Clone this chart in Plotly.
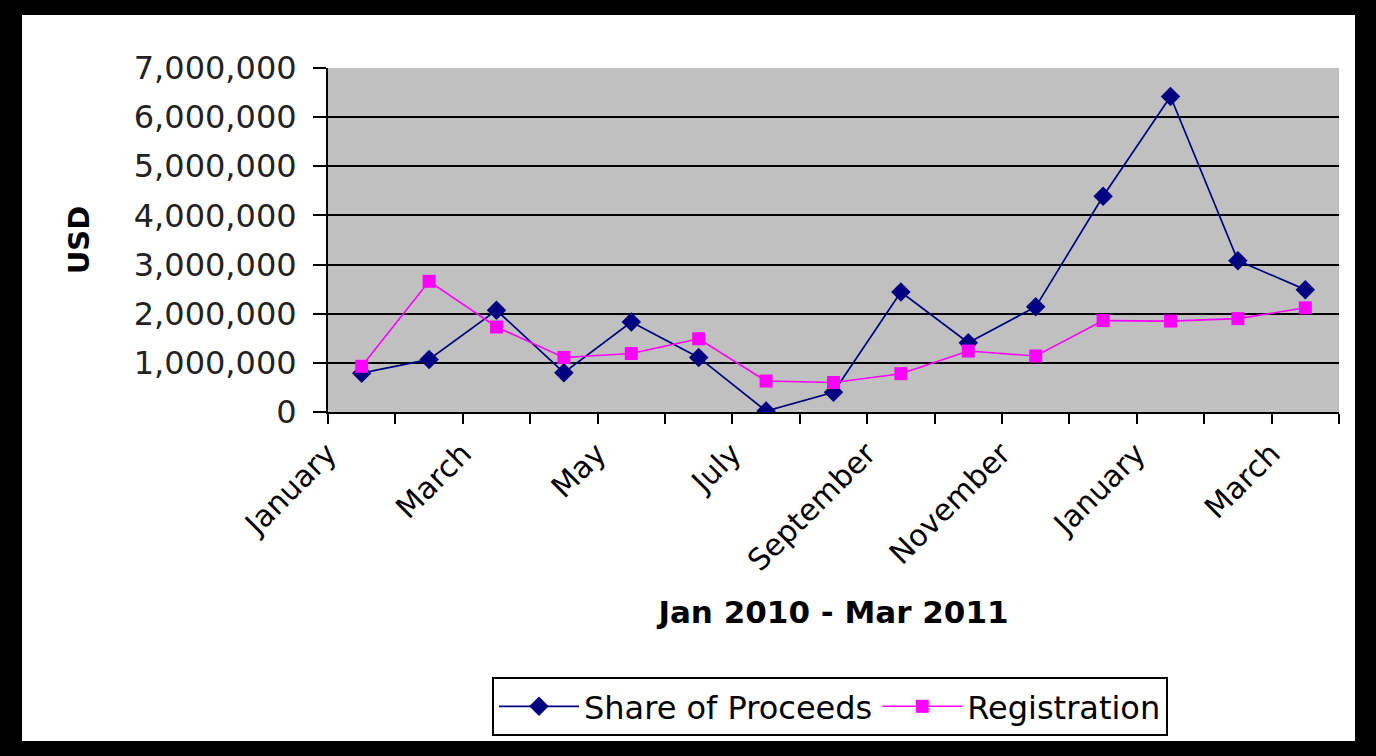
import plotly.graph_objects as go

# ---- data ----
months = ["Jan 2010", "Feb 2010", "Mar 2010", "Apr 2010", "May 2010", "Jun 2010",
          "Jul 2010", "Aug 2010", "Sep 2010", "Oct 2010", "Nov 2010", "Dec 2010",
          "Jan 2011", "Feb 2011", "Mar 2011"]
tick_labels = ["January", "", "March", "", "May", "", "July", "", "September", "",
               "November", "", "January", "", "March"]
share_of_proceeds = [790000, 1070000, 2070000, 800000, 1830000, 1110000, 20000, 400000,
                     2440000, 1410000, 2140000, 4390000, 6420000, 3080000, 2490000]
registration = [930000, 2660000, 1730000, 1110000, 1190000, 1490000, 630000, 600000,
                780000, 1240000, 1140000, 1860000, 1850000, 1900000, 2120000]
y_ticks = [0, 1000000, 2000000, 3000000, 4000000, 5000000, 6000000, 7000000]
grid_vals = [1000000, 2000000, 3000000, 4000000, 5000000, 6000000]

# ---- geometry ----
W, H = 1376, 756
L, R, T, B = 328, 37, 68, 344
pw, ph = W - L - R, H - T - B

def fx(px):
    return (px - L) / pw

def fy(py):
    return (H - B - py) / ph

FONT = "DejaVu Sans"

fig = go.Figure()
fig.add_trace(go.Scatter(
    x=months, y=share_of_proceeds, name="Share of Proceeds", mode="lines+markers",
    line=dict(color="#000080", width=1.7),
    marker=dict(symbol="diamond", size=15, color="#000080"),
))
fig.add_trace(go.Scatter(
    x=months, y=registration, name="Registration", mode="lines+markers",
    line=dict(color="#FF00FF", width=1.6),
    marker=dict(symbol="square", size=13, color="#FF00FF"),
))

fig.update_layout(
    width=W, height=H,
    margin=dict(l=L, r=R, t=T, b=B, pad=0),
    paper_bgcolor="white",
    plot_bgcolor="#C0C0C0",
    font=dict(family=FONT, color="black"),
    showlegend=True,
    legend=dict(
        orientation="h", x=fx(830), xanchor="center", y=fy(677), yanchor="top",
        bgcolor="white", bordercolor="black", borderwidth=2,
        font=dict(family=FONT, size=32, color="black"),
        itemwidth=80, tracegroupgap=0,
    ),
    xaxis=dict(
        type="category", tickmode="array", tickvals=months, ticktext=tick_labels,
        tickson="boundaries", ticks="outside", ticklen=10, tickwidth=1.5, tickcolor="black",
        showline=True, linecolor="black", linewidth=2, showgrid=False, zeroline=False,
        tickangle=-45, tickfont=dict(family=FONT, size=30, color="black"),
        ticklabelshift=-34, ticklabelstandoff=10,
        title=dict(text="<b>Jan 2010 - Mar 2011</b>", font=dict(family=FONT, size=31, color="black"),
                   standoff=24),
        range=[-0.5, 14.5],
    ),
    yaxis=dict(
        range=[0, 7000000], tickmode="array", tickvals=y_ticks, tickformat=",d",
        ticks="outside", ticklen=13, tickwidth=1.5, tickcolor="black",
        showline=True, linecolor="black", linewidth=2, showgrid=False, zeroline=False,
        tickfont=dict(family=FONT, size=32, color="#222222"),
        ticklabelstandoff=10,
        title=dict(text="<b>USD</b>", font=dict(family=FONT, size=29, color="black"), standoff=36),
    ),
    yaxis2=dict(
        range=[0, 7000000], overlaying="y", side="left", tickmode="array", tickvals=grid_vals,
        showgrid=True, gridcolor="black", gridwidth=2, showticklabels=False, ticks="",
        showline=False, zeroline=False,
    ),
)

# invisible carrier trace so the gridline axis renders
fig.add_trace(go.Scatter(x=[months[0]], y=[0], yaxis="y2", mode="markers",
                         marker=dict(opacity=0), showlegend=False, hoverinfo="skip"))

# black frame around the picture
for x0, x1, y0, y1 in [(0, 22, 0, H), (W - 21, W, 0, H), (0, W, 0, 15), (0, W, H - 15, H)]:
    fig.add_shape(type="rect", xref="paper", yref="paper",
                  x0=fx(x0), x1=fx(x1), y0=fy(y1), y1=fy(y0),
                  fillcolor="black", line=dict(width=0), layer="above")

fig.write_html("out.html",
               config={"displayModeBar": False},
               post_script="document.body.style.margin='0';document.body.style.overflow='hidden';")
